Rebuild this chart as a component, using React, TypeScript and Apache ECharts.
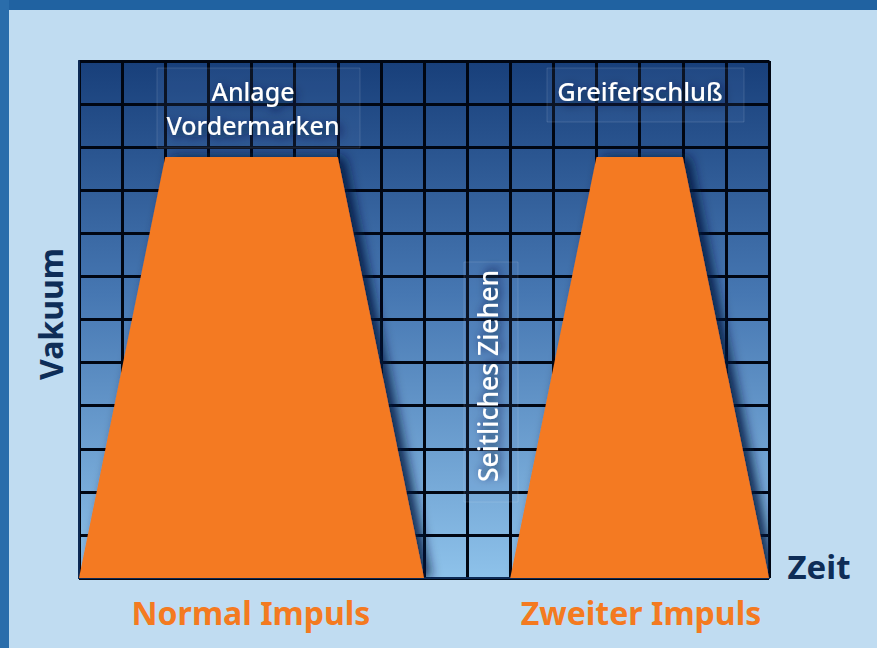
import React, { useEffect, useRef } from "react";
import * as echarts from "echarts";

const normalImpuls: [number, number][] = [[0, 0], [2, 9.77], [6, 9.77], [8, 0]];
const zweiterImpuls: [number, number][] = [[10, 0], [12, 9.77], [14, 9.77], [16, 0]];
const xRange = [0, 16];
const yRange = [0, 12];
const phaseLabels = ["Anlage\nVordermarken", "Greiferschluß", "Seitliches Ziehen"];
const impulsLabels = ["Normal Impuls", "Zweiter Impuls"];
const axisNames = ["Vakuum", "Zeit"];

const ORANGE = "#f47a20";
const NAVY = "#0e2d57";
const FONT = "'Noto Sans', 'Open Sans', sans-serif";

export default function App() {
  const ref = useRef<HTMLDivElement>(null);
  useEffect(() => {
    if (!ref.current) return;
    const chart = echarts.init(ref.current, undefined, { renderer: "svg" });
    const labelShadow = {
      textShadowColor: "rgba(0,20,60,0.85)",
      textShadowBlur: 10,
      textShadowOffsetX: 3,
      textShadowOffsetY: 3,
    };
    const areaSeries = (name: string, data: [number, number][]) => ({
      name,
      type: "line",
      data,
      symbol: "none",
      lineStyle: { width: 0 },
      areaStyle: {
        color: ORANGE,
        opacity: 1,
        shadowColor: "rgba(0,20,60,0.9)",
        shadowBlur: 12,
        shadowOffsetX: 7,
        shadowOffsetY: 0,
      },
      z: 3,
    });
    const boxStyle = { fill: "rgba(110,150,205,0.1)", stroke: "rgba(255,255,255,0.13)", lineWidth: 1 };
    chart.setOption({
      animation: false,
      backgroundColor: "#c0dcf1",
      grid: {
        left: 79,
        top: 61,
        width: 690,
        height: 517,
        show: true,
        borderColor: "#0d2a55",
        borderWidth: 1.5,
        backgroundColor: new echarts.graphic.LinearGradient(0, 0, 0, 1, [
          { offset: 0, color: "#183f7a" },
          { offset: 0.45, color: "#4677b2" },
          { offset: 1, color: "#8ec2ea" },
        ]),
      },
      xAxis: {
        type: "value",
        min: xRange[0],
        max: xRange[1],
        interval: 1,
        axisLine: { show: true, lineStyle: { color: "#0d2a55", width: 2 } },
        axisTick: { show: false },
        axisLabel: { show: false },
        splitLine: { show: true, lineStyle: { color: "#000612", width: 3 } },
      },
      yAxis: {
        type: "value",
        min: yRange[0],
        max: yRange[1],
        interval: 1,
        axisLine: { show: true, lineStyle: { color: "#0d2a55", width: 2 } },
        axisTick: { show: false },
        axisLabel: { show: false },
        splitLine: { show: true, lineStyle: { color: "#000612", width: 3 } },
      },
      series: [areaSeries(impulsLabels[0], normalImpuls), areaSeries(impulsLabels[1], zweiterImpuls)],
      graphic: [
        { type: "rect", shape: { x: 0, y: 0, width: 877, height: 10 }, style: { fill: "#2062a1" }, z: 10 },
        { type: "rect", shape: { x: 0, y: 0, width: 9, height: 648 }, style: { fill: "#2a6dab" }, z: 10 },
        { type: "rect", shape: { x: 157, y: 68, width: 203, height: 80 }, style: boxStyle, z: 5 },
        { type: "rect", shape: { x: 547, y: 68, width: 197, height: 54 }, style: boxStyle, z: 5 },
        { type: "rect", shape: { x: 464, y: 262, width: 54, height: 240 }, style: boxStyle, z: 5 },
        {
          type: "text",
          x: 253,
          y: 108,
          z: 20,
          style: {
            text: phaseLabels[0],
            fill: "#ffffff",
            font: `500 25px ${FONT}`,
            align: "center",
            verticalAlign: "middle",
            lineHeight: 34,
            ...labelShadow,
          },
        },
        {
          type: "text",
          x: 640,
          y: 91,
          z: 20,
          style: {
            text: phaseLabels[1],
            fill: "#ffffff",
            font: `500 25.5px ${FONT}`,
            align: "center",
            verticalAlign: "middle",
            ...labelShadow,
          },
        },
        {
          type: "text",
          x: 488,
          y: 376,
          rotation: Math.PI / 2,
          z: 20,
          style: {
            text: phaseLabels[2],
            fill: "#ffffff",
            font: `500 26.5px ${FONT}`,
            align: "center",
            verticalAlign: "middle",
            ...labelShadow,
          },
        },
        {
          type: "text",
          x: 50,
          y: 314,
          rotation: Math.PI / 2,
          z: 20,
          style: {
            text: axisNames[0],
            fill: NAVY,
            font: `bold 32px ${FONT}`,
            align: "center",
            verticalAlign: "middle",
          },
        },
        {
          type: "text",
          x: 819,
          y: 566,
          z: 20,
          style: {
            text: axisNames[1],
            fill: NAVY,
            font: `bold 33px ${FONT}`,
            align: "center",
            verticalAlign: "middle",
          },
        },
        {
          type: "text",
          x: 251,
          y: 612,
          z: 20,
          style: {
            text: impulsLabels[0],
            fill: ORANGE,
            font: `bold 32px ${FONT}`,
            align: "center",
            verticalAlign: "middle",
          },
        },
        {
          type: "text",
          x: 641,
          y: 612,
          z: 20,
          style: {
            text: impulsLabels[1],
            fill: ORANGE,
            font: `bold 32px ${FONT}`,
            align: "center",
            verticalAlign: "middle",
          },
        },
      ],
    });
    return () => chart.dispose();
  }, []);
  return (
    <div
      ref={ref}
      style={{ position: "absolute", left: 0, top: 0, width: 877, height: 648 }}
    />
  );
}
